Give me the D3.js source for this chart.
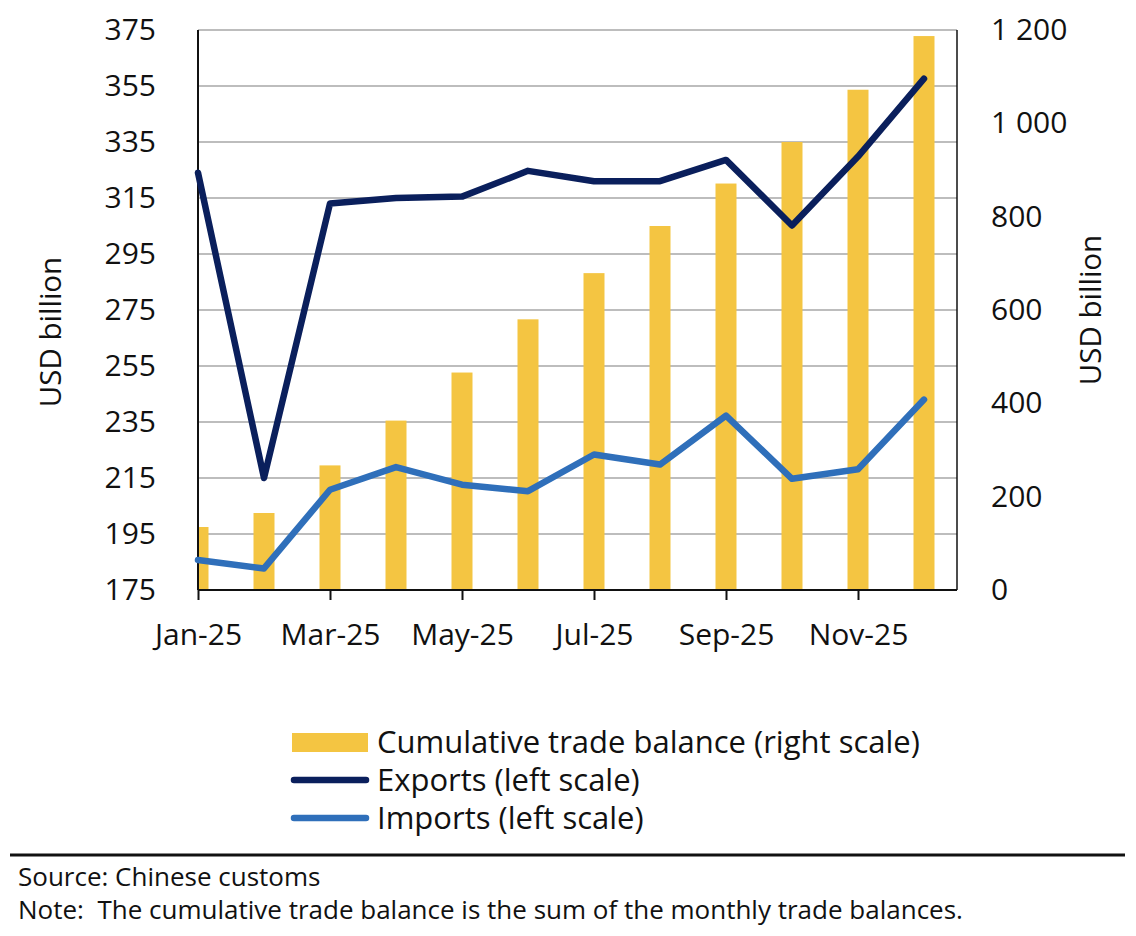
<!DOCTYPE html>
<html>
<head>
<meta charset="utf-8">
<script src="https://cdn.jsdelivr.net/npm/d3@7"></script>
<style>
  body { margin: 0; background: #fff; }
  text { font-family: "Open Sans", sans-serif; fill: #111; }
</style>
</head>
<body>
<svg width="1136" height="936"></svg>
<script>
// months Jan-25 .. Dec-25
const months = ["Jan-25", "Feb-25", "Mar-25", "Apr-25", "May-25", "Jun-25",
  "Jul-25", "Aug-25", "Sep-25", "Oct-25", "Nov-25", "Dec-25"];
// USD billion, left scale
const exportsVals = [324, 215, 313, 315, 315.5, 324.7, 321, 321, 328.6, 305.2, 329.8, 357.6];
const importsVals = [185.7, 182.7, 210.8, 218.9, 212.6, 210.3, 223.4, 219.8, 237.3, 214.7, 218.1, 243];
// USD billion, right scale
const balanceVals = [135, 165, 267, 363, 466, 580, 679, 780, 871, 960, 1072, 1187];
const leftTicks = [175, 195, 215, 235, 255, 275, 295, 315, 335, 355, 375];
const rightTicks = [0, 200, 400, 600, 800, 1000, 1200];

const svg = d3.select("svg");
const plotL = 198, plotR = 957, plotT = 30, plotB = 590;

// date-style axis: Jan sits on the left edge, half a month of room after Dec
const x = d3.scaleLinear().domain([0, 11.5]).range([plotL, plotR]);
const yL = d3.scaleLinear().domain([175, 375]).range([plotB, plotT]);
const yR = d3.scaleLinear().domain([0, 1200]).range([plotB, plotT]);

const fmtR = d3.formatLocale({ decimal: ".", thousands: "\u00a0", grouping: [3], currency: ["", ""] }).format(",");

svg.append("defs").append("clipPath").attr("id", "plot")
  .append("rect").attr("x", plotL).attr("y", plotT - 10).attr("width", plotR - plotL).attr("height", plotB - plotT + 10);

// gridlines
svg.append("g").selectAll("line").data(leftTicks).enter().append("line")
  .attr("x1", plotL).attr("x2", plotR)
  .attr("y1", (d) => yL(d)).attr("y2", (d) => yL(d))
  .attr("stroke", "#bdbdbd").attr("stroke-width", 2);

// bars
const barW = 21;
svg.append("g").attr("clip-path", "url(#plot)").selectAll("rect").data(balanceVals).enter().append("rect")
  .attr("x", (d, i) => x(i) - barW / 2)
  .attr("y", (d) => yR(d))
  .attr("width", barW)
  .attr("height", (d) => yR(0) - yR(d))
  .attr("fill", "#f4c542");

// axes
const leftAxis = svg.append("g").attr("transform", `translate(${plotL},0)`)
  .call(d3.axisLeft(yL).tickValues(leftTicks).tickSize(0).tickPadding(42));
const rightAxis = svg.append("g").attr("transform", `translate(${plotR},0)`)
  .call(d3.axisRight(yR).tickValues(rightTicks).tickSize(0).tickPadding(34).tickFormat(fmtR));
const bottomAxis = svg.append("g").attr("transform", `translate(0,${plotB})`)
  .call(d3.axisBottom(x).tickValues([0, 2, 4, 6, 8, 10]).tickSize(10).tickPadding(18)
    .tickFormat((d) => months[d]));

[leftAxis, rightAxis, bottomAxis].forEach((g) => {
  g.select(".domain").attr("stroke", "#111").attr("stroke-width", 2);
  g.selectAll(".tick line").attr("stroke", "#111").attr("stroke-width", 2);
  g.selectAll("text").style("font-size", "30px").attr("fill", "#111");
});
leftAxis.select(".domain").attr("d", `M0,${plotB}V${plotT}`);
rightAxis.select(".domain").attr("d", `M0,${plotB}V${plotT}`).attr("stroke-width", 1.5);
bottomAxis.select(".domain").attr("d", `M${plotL},0H${plotR}`);
bottomAxis.selectAll("text").attr("dy", "0.9em");

// lines
const lineL = (vals) => d3.line().x((d, i) => x(i)).y((d) => yL(d))(vals);
svg.append("path").attr("d", lineL(importsVals))
  .attr("fill", "none").attr("stroke", "#2f6fba").attr("stroke-width", 6.5)
  .attr("stroke-linejoin", "round").attr("stroke-linecap", "round");
svg.append("path").attr("d", lineL(exportsVals))
  .attr("fill", "none").attr("stroke", "#0a1f5c").attr("stroke-width", 6.5)
  .attr("stroke-linejoin", "round").attr("stroke-linecap", "round");

// axis titles
svg.append("text").attr("transform", "translate(61,332) rotate(-90)")
  .attr("text-anchor", "middle").style("font-size", "29.5px").text("USD billion");
svg.append("text").attr("transform", "translate(1101,310) rotate(-90)")
  .attr("text-anchor", "middle").style("font-size", "29.5px").text("USD billion");

// legend
const legend = svg.append("g");
legend.append("rect").attr("x", 292).attr("y", 733).attr("width", 76).attr("height", 19).attr("fill", "#f4c542");
legend.append("line").attr("x1", 294).attr("x2", 366).attr("y1", 780).attr("y2", 780)
  .attr("stroke", "#0a1f5c").attr("stroke-width", 6.5).attr("stroke-linecap", "round");
legend.append("line").attr("x1", 294).attr("x2", 366).attr("y1", 818).attr("y2", 818)
  .attr("stroke", "#2f6fba").attr("stroke-width", 6.5).attr("stroke-linecap", "round");
const legendText = ["Cumulative trade balance (right scale)", "Exports (left scale)", "Imports (left scale)"];
legend.selectAll("text.lg").data(legendText).enter().append("text")
  .attr("x", 377).attr("y", (d, i) => 742 + i * 38).attr("dy", "0.35em")
  .style("font-size", "31px").text((d) => d);

// footer
svg.append("line").attr("x1", 10).attr("x2", 1125).attr("y1", 855).attr("y2", 855)
  .attr("stroke", "#111").attr("stroke-width", 3);
svg.append("text").attr("x", 18).attr("y", 886).style("font-size", "26px").text("Source: Chinese customs");
svg.append("text").attr("x", 18).attr("y", 919).style("font-size", "26px")
  .text("Note:\u00a0 The cumulative trade balance is the sum of the monthly trade balances.");
</script>
</body>
</html>
